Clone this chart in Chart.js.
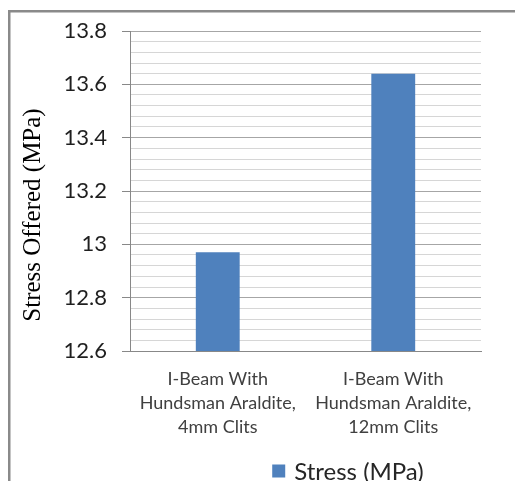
<!DOCTYPE html>
<html>
<head>
<meta charset="utf-8">
<script src="https://cdn.jsdelivr.net/npm/chart.js@4.4.0/dist/chart.umd.min.js"></script>
<style>
  html, body { margin: 0; padding: 0; background: #ffffff; }
  #wrap { position: relative; width: 515px; height: 481px; }
</style>
</head>
<body>
<div id="wrap"><canvas id="c" width="515" height="481"></canvas></div>
<script>
// Categories (multi-line axis labels)
const categories = [
  ["I-Beam With", "Hundsman Araldite,", "4mm Clits"],
  ["I-Beam With", "Hundsman Araldite,", "12mm Clits"]
];
// Stress values per configuration (MPa)
const stressValues = [12.97, 13.64];
const seriesName = "Stress (MPa)";
const yAxisTitle = "Stress Offered (MPa)";
// Value axis range and tick spacing
const yMin = 12.6;
const yMax = 13.8;
const majorStep = 0.2;
const minorStep = 0.04;

const barColor = "#4F81BD";
const isMajor = v => Math.round(v * 100) % Math.round(majorStep * 100) === 0;

// Outer frame (left and top edges of the chart box)
const framePlugin = {
  id: "frame",
  beforeDraw(chart) {
    const ctx = chart.ctx;
    ctx.save();
    ctx.fillStyle = "#8a8a8a";
    ctx.fillRect(8, 10, 2.5, chart.height - 10);
    ctx.fillRect(8, 10, chart.width - 8, 2.5);
    ctx.restore();
  }
};

// Rotated serif axis title
const yTitlePlugin = {
  id: "yTitle",
  afterDraw(chart) {
    const ctx = chart.ctx;
    const area = chart.chartArea;
    ctx.save();
    ctx.translate(33, (area.top + area.bottom) / 2 + 24);
    ctx.rotate(-Math.PI / 2);
    ctx.font = "25px 'Liberation Serif', 'Times New Roman', serif";
    ctx.fillStyle = "#000000";
    ctx.textAlign = "center";
    ctx.textBaseline = "middle";
    ctx.fillText(yAxisTitle, 0, 0);
    ctx.restore();
  }
};

// Series legend below the axis labels
const legendPlugin = {
  id: "seriesLegend",
  afterDraw(chart) {
    const ctx = chart.ctx;
    const area = chart.chartArea;
    const ds = chart.data.datasets[0];
    ctx.save();
    ctx.font = "24px Lato, 'Open Sans', sans-serif";
    const box = 13, gap = 9;
    const tw = ctx.measureText(ds.label).width;
    const total = box + gap + tw;
    const cx = area.left + 218;
    const cy = area.bottom + 120;
    const x0 = cx - total / 2;
    ctx.fillStyle = ds.backgroundColor;
    ctx.fillRect(x0, cy - box / 2, box, box);
    ctx.fillStyle = "#262626";
    ctx.textAlign = "left";
    ctx.textBaseline = "middle";
    ctx.fillText(ds.label, x0 + box + gap, cy + 1);
    ctx.restore();
  }
};

new Chart(document.getElementById("c"), {
  type: "bar",
  data: {
    labels: categories,
    datasets: [{
      label: seriesName,
      data: stressValues,
      backgroundColor: barColor,
      borderWidth: 0,
      categoryPercentage: 1.0,
      barPercentage: 0.25
    }]
  },
  options: {
    responsive: false,
    animation: false,
    layout: { padding: { left: 0, top: 31, right: 34, bottom: 0 } },
    plugins: {
      legend: { display: false },
      tooltip: { enabled: false }
    },
    scales: {
      x: {
        grid: { display: false, drawTicks: false },
        border: { display: true, color: "#888888", width: 1 },
        ticks: {
          color: "#404040",
          font: { family: "Lato, 'Open Sans', sans-serif", size: 18, lineHeight: 1.33 },
          padding: 16,
          maxRotation: 0,
          autoSkip: false
        },
        afterFit(scale) { scale.height = 130; }
      },
      y: {
        min: yMin,
        max: yMax,
        grid: {
          color: ctx => isMajor(ctx.tick.value) ? "#a6a6a6" : "#d6d6d6",
          lineWidth: 1,
          tickLength: 8,
          tickColor: ctx => isMajor(ctx.tick.value) ? "#888888" : "rgba(0,0,0,0)"
        },
        border: { display: true, color: "#888888", width: 1 },
        ticks: {
          stepSize: minorStep,
          autoSkip: false,
          padding: 15,
          color: "#1f1f1f",
          font: { family: "Lato, 'Open Sans', sans-serif", size: 22 },
          callback: v => isMajor(v) ? String(Math.round(v * 10) / 10) : ""
        },
        afterFit(scale) { scale.width = 130; }
      }
    }
  },
  plugins: [framePlugin, yTitlePlugin, legendPlugin]
});
</script>
</body>
</html>
